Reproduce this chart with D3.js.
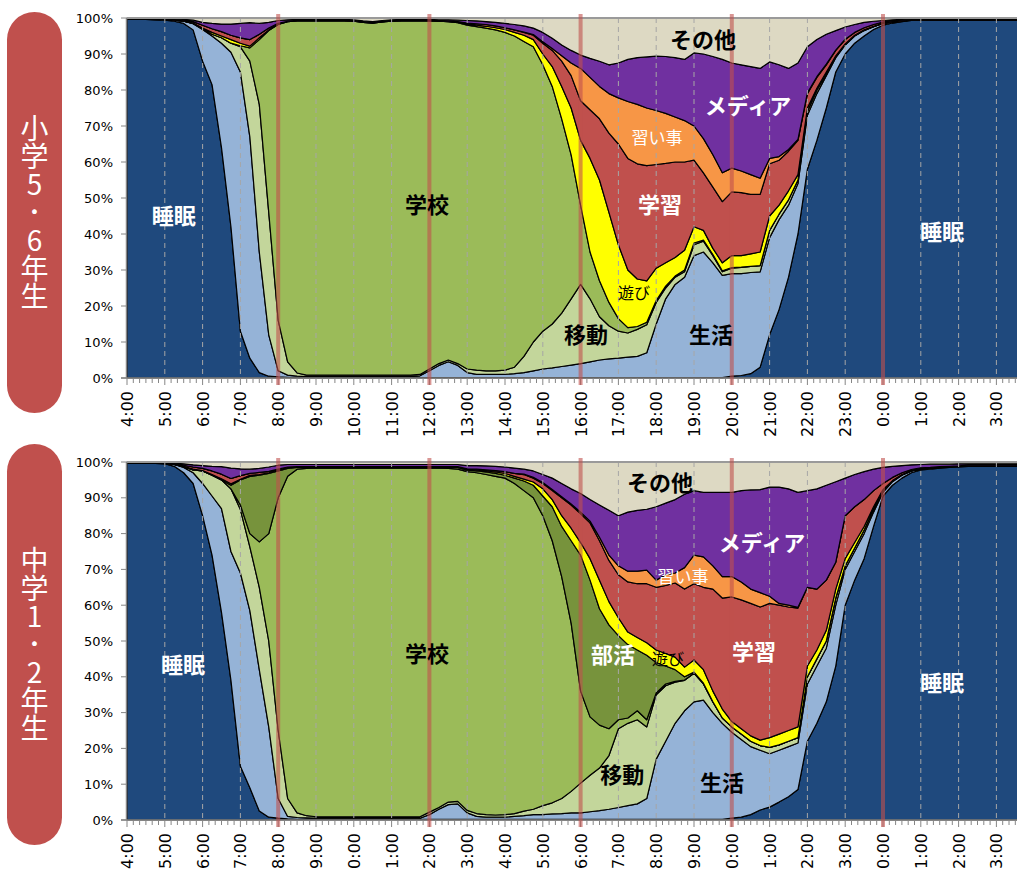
<!DOCTYPE html>
<html lang="ja">
<head>
<meta charset="UTF-8">
<title>子どもの生活時間</title>
<script src="https://d3js.org/d3.v7.min.js"></script>
<style>
  body { margin: 0; background: #fff; }
  svg { display: block; font-family: "Noto Sans CJK JP", sans-serif; }
  .axis-text { font-family: "DejaVu Sans", sans-serif; fill: #000; }
</style>
</head>
<body>
<svg id="chart" width="1017" height="870"></svg>
<script>
// activity categories, bottom to top
var keys = ["睡眠", "生活", "移動", "学校", "部活", "遊び", "学習", "習い事", "メディア", "その他"];
var colors = ["#1F497D", "#95B3D7", "#C3D69B", "#9BBB59", "#77933C", "#FFFF00", "#C0504D", "#F79646", "#7030A0", "#DDD9C3"];

// 15-minute slots from 4:00 to 4:00 next day (one group = one hour)
var hourLabels1 = ["4:00","5:00","6:00","7:00","8:00","9:00","10:00","11:00","12:00","13:00","14:00","15:00",
                   "16:00","17:00","18:00","19:00","20:00","21:00","22:00","23:00","0:00","1:00","2:00","3:00"];
// lower panel: labels as they appear in the source (leading digit cut off at the page edge)
var hourLabels2 = ["4:00","5:00","6:00","7:00","8:00","9:00","0:00","1:00","2:00","3:00","4:00","5:00",
                   "6:00","7:00","8:00","9:00","0:00","1:00","2:00","3:00","0:00","1:00","2:00","3:00"];

// ---- 小学5・6年生 (% of children) ----
var p1Sleep = [99.7,99.7,99.6,99.5, 99.4,99.1,98.5,96.7, 88,81.5,64,42, 13,5.5,1.5,0.5, 0.3,0.2,0.1,0.1,
  0.1,0.1,0.1,0.1, 0.1,0.1,0.1,0.1, 0.1,0.1,0.1,0.1, 0.1,0.1,0.1,0.1, 0.1,0.1,0.1,0.1, 0.1,0.1,0.1,0.1,
  0.1,0.1,0.1,0.1, 0.1,0.1,0.1,0.1, 0.1,0.1,0.1,0.1, 0.1,0.1,0.1,0.1, 0.1,0.1,0.1,0.1,
  0.5,0.7,1.2,3, 12,19,28,40, 58,66,75,85, 90,93,95,96.8, 98,98.6,99,99.3,
  99.3,99.3,99.3,99.3, 99.3,99.3,99.3,99.3, 99.3,99.3,99.3,99.3, 99.3];
var p1Life = [0.1,0.1,0.1,0.2, 0.2,0.3,0.6,1.7, 8.8,13.5,29,48.5, 72,61.5,33.5,11.5, 1.7,0.6,0.4,0.3,
  0.3,0.3,0.3,0.3, 0.3,0.3,0.3,0.3, 0.3,0.3,0.3,0.5, 1.9,3.4,4.4,3.4, 1.4,0.9,0.9,0.9, 0.9,1.1,1.4,1.9,
  2.4,2.7,3.1,3.5, 3.9,4.4,4.9,5.2, 5.4,5.7,5.9,6.9, 14.9,21.9,25.9,27.9, 33.9,34.9,31.9,28.4,
  28.5,28.3,28.1,26.5, 27,25,20,14, 15,13,9,4, 2.5,2,1.5,0.8, 0.5,0.3,0.2,0.1,
  0.1,0.1,0.1,0.1, 0.1,0.1,0.1,0.1, 0.1,0.1,0.1,0.1, 0.1];
var p1Move = [0,0,0,0, 0,0,0,0.1, 0.2,0.5,1.5,2.5, 7,21,41,34, 14,3.7,0.9,0.4,
  0.4,0.4,0.4,0.4, 0.4,0.4,0.4,0.4, 0.4,0.4,0.4,0.4, 0.5,0.5,0.5,0.5, 1.0,1.2,1.0,1.0, 1.2,1.8,4.5,8,
  10.5,12.2,14.8,18.4, 22,17.5,12,9.2, 7.5,6.7,7.5,7.8, 6,3,2,1.5, 3,3,2,1,
  1.5,1.7,1.7,1.7, 2,1.5,1.5,1, 1,1,0.5,0.3, 0.2,0.1,0.1,0, 0,0,0,0,
  0,0,0,0, 0,0,0,0, 0,0,0,0, 0];
var p1School = [0,0,0,0, 0,0,0,0, 0,0,0,0, 0.3,3.7,18,50.5, 82.2,94.5,97.8,98.4,
  98.4,98.4,98.4,98.4, 98.3,98.0,97.8,98.1, 98.3,98.4,98.4,98.2, 96.7,95.1,94,94.7, 95.5,95.4,95.2,94.7, 93.8,92,87.5,82,
  74,66,54,40, 22,13,10,6.5, 3.5,1.5,0.8,0.7, 0.5,0.5,0.3,0.5, 0.5,0.3,0.3,0.3,
  0.2,0.1,0,0, 0,0,0,0, 0,0,0,0, 0,0,0,0, 0,0,0,0,
  0,0,0,0, 0,0,0,0, 0,0,0,0, 0];
var p1Play = [0,0,0,0, 0,0,0.1,0.1, 0.2,0.5,0.5,1.0, 0.7,0.5,0.5,0.2, 0.1,0,0,0,
  0,0,0,0, 0,0,0,0, 0,0,0,0, 0,0,0,0.1, 0.3,0.4,0.5,0.6, 0.8,1.0,1.7,2,
  3,5.5,9,13, 18,26,28,25, 20.5,16,13.2,11.5, 9,6.5,5.2,5.5, 4.5,2.7,1.7,2.2,
  3.3,3.2,3.5,3.8, 4,2.5,2.5,1.5, 1,0.5,0.5,0.2, 0.1,0.1,0.1,0.1, 0.1,0,0,0,
  0,0,0,0, 0,0,0,0, 0,0,0,0, 0];
var p1Study = [0,0,0.1,0.1, 0.1,0.2,0.2,0.4, 0.8,1.0,1.2,1.2, 1.5,1.8,1.0,0.5, 0.2,0.1,0.1,0.1,
  0.1,0.1,0.1,0.1, 0.1,0.1,0.1,0.1, 0.1,0.1,0.1,0.1, 0.1,0.1,0.1,0.2, 0.3,0.4,0.5,0.5, 0.5,0.7,0.8,1.2,
  3,4.5,7,9, 11,13.5,17,22, 28,31,32,32, 28.8,27.6,26.5,24.5, 18.5,16,17,17,
  17.7,17.5,16.5,16, 14.5,12.5,11,9.5, 4,3,2,1.5, 1.2,0.8,0.6,0.5, 0.3,0.3,0.2,0.1,
  0.1,0.1,0.1,0.1, 0.1,0.1,0.1,0.1, 0.1,0.1,0.1,0.1, 0.1];
var p1Lesson = [0,0,0,0, 0,0,0,0, 0,0,0,0, 0,0,0,0, 0,0,0,0,
  0,0,0,0, 0,0,0,0, 0,0,0,0, 0,0,0,0, 0,0,0,0, 0,0,0.1,0.2,
  0.4,0.5,1.5,3.5, 9,9,9,11, 12.8,15.8,16.5,16, 15,13.9,12.5,11.5, 9.5,9.5,9,8,
  6.6,6,5.5,4.5, 1.5,1,0.5,0.3, 0.2,0.2,0.2,0.1, 0.1,0,0,0, 0,0,0,0,
  0,0,0,0, 0,0,0,0, 0,0,0,0, 0];
var p1Media = [0.1,0.1,0.1,0.1, 0.1,0.1,0.2,0.4, 0.8,1.5,2.1,3.1, 4.0,4.7,3.0,1.6, 0.8,0.4,0.3,0.3,
  0.3,0.3,0.3,0.3, 0.3,0.3,0.3,0.3, 0.3,0.3,0.3,0.3, 0.3,0.3,0.4,0.4, 0.7,0.8,0.8,1.0, 1.2,1.5,1.7,1.8,
  2.6,2.9,3,3.5, 3.7,5.3,7,8, 9.7,11.7,13,14.2, 15.1,15.8,16.5,17, 20.3,23.5,27.3,31.5,
  29.2,29.5,30,30.5, 26.8,25.5,22.5,21.2, 12.8,10.3,8.3,5.4, 3.4,2.2,1.5,0.9, 0.4,0.3,0.2,0.2,
  0.2,0.2,0.2,0.2, 0.2,0.2,0.2,0.2, 0.2,0.2,0.2,0.2, 0.2];
var p1Other = [0.1,0.1,0.1,0.1, 0.2,0.3,0.4,0.6, 1.2,1.5,1.7,1.7, 1.5,1.3,1.5,1.2, 0.7,0.5,0.4,0.4,
  0.4,0.4,0.4,0.4, 0.5,0.8,1.0,0.7, 0.5,0.4,0.4,0.4, 0.4,0.5,0.5,0.6, 0.7,0.8,1.0,1.2, 1.5,1.8,2.2,2.8,
  4,5.6,7.5,9, 10.3,11.2,12,13, 12.5,11.5,11,10.8, 10.6,10.7,11,11.5, 9.7,10,10.7,11.5,
  12.5,13,13.5,14, 12.2,13,14,12.5, 8,6,4.5,3.5, 2.5,1.8,1.2,0.9, 0.7,0.5,0.4,0.3,
  0.3,0.3,0.3,0.3, 0.3,0.3,0.3,0.3, 0.3,0.3,0.3,0.3, 0.3];

// ---- 中学1・2年生 (% of children) ----
var p2Sleep = [99.7,99.7,99.6,99.6, 99.5,98.8,97,94, 85,74,58,39, 15,9,2.5,0.8, 0.5,0.3,0.2,0.2,
  0.2,0.2,0.2,0.2, 0.2,0.2,0.2,0.2, 0.2,0.2,0.2,0.2, 0.2,0.2,0.2,0.2, 0.2,0.2,0.2,0.2, 0.2,0.2,0.2,0.2,
  0.2,0.2,0.2,0.2, 0.2,0.2,0.2,0.2, 0.2,0.2,0.2,0.2, 0.2,0.2,0.2,0.2, 0.2,0.2,0.2,0.2,
  0.5,0.8,1.5,2.8, 3.6,5,6.5,8.5, 22,27,33,43, 60,67,73,82, 90.5,93.5,95.5,97,
  97.8,98,98.3,98.5, 98.6,98.8,98.8,98.8, 98.8,98.8,98.8,98.8, 98.8];
var p2Life = [0.1,0.1,0.1,0.1, 0.1,0.5,1.5,3, 9,16.5,29,36, 54,49.5,39.5,25.2, 5.5,0.7,0.5,0.4,
  0.3,0.3,0.3,0.3, 0.3,0.3,0.3,0.3, 0.3,0.3,0.3,0.3, 1.3,2.8,4.1,4.3, 1.8,0.8,0.6,0.6, 0.6,0.8,1.0,1.3,
  1.3,1.5,1.6,1.8, 1.8,2.1,2.4,2.8, 3.3,3.8,4.3,5.8, 16.8,21.8,26.8,30.3, 32.8,33.3,29.8,26.8,
  24,21.7,19,16.7, 14.9,14.5,14,13, 16,16,15,17, 10,8,7,4, 1,1,0.8,0.5,
  0.3,0.3,0.2,0.2, 0.2,0.2,0.2,0.2, 0.2,0.2,0.2,0.2, 0.2];
var p2Move = [0,0,0,0, 0,0,0.2,0.8, 3.5,5.8,8,17.5, 17.7,17.8,23,24, 19,5,1.3,0.6,
  0.4,0.4,0.4,0.4, 0.4,0.4,0.4,0.4, 0.4,0.4,0.4,0.4, 0.7,0.5,0.7,0.7, 0.7,0.8,0.7,0.6, 0.7,0.8,1.3,1.5,
  2.5,3.1,4.2,6, 8.3,10.2,11.9,15, 22,23,23.5,20, 18,15.5,11.5,8.5, 8,4.5,3,1.5,
  1.5,1.5,1.5,1.3, 1.8,1.5,1.5,1.5, 2,2,2,2, 1,1,1,0.8, 0.5,0.2,0.1,0,
  0,0,0,0, 0,0,0,0, 0,0,0,0, 0];
var p2School = [0,0,0,0, 0,0,0,0, 0,0,0,0, 1.3,3.7,12.7,30, 65,90,96,97,
  97.4,97.4,97.4,97.4, 97.4,97.4,97.4,97.4, 97.4,97.4,97.4,97.4, 96.1,94.8,93.2,92.8, 94.6,95.2,95,94.6, 94,92.2,89.5,87,
  81,73.2,62,47, 25.7,16.3,12,7.5, 2.5,1.5,2.5,2, 0.5,0.5,0.2,0.1, 0,0,0,0,
  0,0,0,0, 0,0,0,0, 0,0,0,0, 0,0,0,0, 0,0,0,0,
  0,0,0,0, 0,0,0,0, 0,0,0,0, 0];
var p2Club = [0,0,0,0, 0,0,0,0, 0,0,0,1, 7,16,18.6,16.8, 7.5,2.2,0.5,0.3,
  0.2,0.2,0.2,0.2, 0.2,0.2,0.2,0.2, 0.2,0.2,0.2,0.2, 0.2,0.2,0.3,0.5, 0.4,0.5,0.7,0.8, 0.8,1.5,2.7,3.5,
  5.5,9.5,14,23, 38,38.2,32.5,29, 23.5,20.5,17,18, 8.5,5,3.3,0.9, 0.3,0.2,0,0,
  0,0,0,0, 0,0,0,0, 0,0,0,0, 0,0,0,0, 0,0,0,0,
  0,0,0,0, 0,0,0,0, 0,0,0,0, 0];
var p2Play = [0,0,0,0, 0,0,0.1,0.2, 0.1,0.2,0.3,0.4, 0.2,0.3,0.2,0.2, 0.2,0.2,0.1,0.1,
  0.1,0.1,0.1,0.1, 0.1,0.1,0.1,0.1, 0.1,0.1,0.1,0.1, 0.1,0.1,0.1,0.1, 0.2,0.2,0.3,0.4, 0.5,0.5,0.5,0.9,
  2,2,3,3.5, 3.5,6,8,6.5, 5,3.5,3.5,3.5, 3.5,3.5,3.5,2.7, 3.4,3.8,3,2.5,
  1.5,1.5,1.5,1.5, 2.7,3,3,3, 3,2.5,3,2.5, 2,1.5,1,0.7, 0.3,0.1,0.1,0.1,
  0,0,0,0, 0,0,0,0, 0,0,0,0, 0];
var p2Study = [0,0,0.1,0.1, 0.1,0.2,0.3,0.6, 0.6,1.0,1.3,1.5, 1,0.5,0.6,0.4, 0.3,0.2,0.1,0.1,
  0.1,0.1,0.1,0.1, 0.1,0.1,0.1,0.1, 0.1,0.1,0.1,0.1, 0.1,0.1,0.1,0.1, 0.2,0.3,0.3,0.4, 0.5,0.8,1.3,1.1,
  1.5,2.5,5,6.5, 8,10,11,11.5, 12,14,15,16.5, 17.5,19,20.7,21.8, 21.3,23,28.5,31,
  34.8,36,37,37.2, 37.5,36,34.5,33.2, 22,17,14,7.5, 12,10,7.5,4.5, 1.7,0.9,0.5,0.3,
  0.3,0.2,0.2,0.1, 0.1,0.1,0.1,0.1, 0.1,0.1,0.1,0.1, 0.1];
var p2Lesson = [0,0,0,0, 0,0,0,0, 0,0,0,0, 0,0,0,0, 0,0,0,0,
  0,0,0,0, 0,0,0,0, 0,0,0,0, 0,0,0,0, 0,0,0,0, 0,0,0.1,0.2,
  0.3,0.3,0.3,0.3, 0.5,0.5,1,1.5, 2.5,3,3.5,3.8, 2,3,2.8,6, 8,8.5,6.5,6,
  5.7,5,4,4, 2,0.5,0.5,0.2, 0,0,0,0, 0,0,0,0, 0,0,0,0,
  0,0,0,0, 0,0,0,0, 0,0,0,0, 0];
var p2Media = [0.1,0.1,0.1,0.1, 0.1,0.2,0.4,0.6, 0.8,1.3,2.1,2.9, 1.9,1.2,1.1,1.2, 1.1,0.7,0.6,0.6,
  0.6,0.6,0.6,0.6, 0.6,0.6,0.6,0.6, 0.6,0.6,0.6,0.6, 0.6,0.6,0.6,0.6, 0.9,1.0,1.1,1.2, 1.3,1.5,1.4,1.8,
  2.2,3.2,3.7,4.2, 5.2,6,9,12.5, 14,16.5,17,17, 20.5,20,20.5,20.5, 18,18,20.5,23.5,
  23.5,25.5,27.7,28.8, 30.5,32.5,32.5,32.1, 27,28,26.5,22.5, 10.5,9,7.8,6, 4.5,3.1,2,1.3,
  0.9,0.9,0.7,0.6, 0.6,0.4,0.4,0.4, 0.4,0.4,0.4,0.4, 0.4];
var p2Other = [0.1,0.1,0.1,0.1, 0.2,0.3,0.5,0.8, 1.0,1.2,1.3,1.7, 1.9,2,1.8,1.4, 0.9,0.7,0.7,0.7,
  0.7,0.7,0.7,0.7, 0.7,0.7,0.7,0.7, 0.7,0.7,0.7,0.7, 0.7,0.7,0.7,0.7, 1.0,1.0,1.1,1.2, 1.4,1.7,2,2.5,
  3.5,4.5,6,7.5, 8.8,10.5,12,13.5, 15,14,13.5,13.2, 12.5,11.5,10.5,9, 8,8.5,8.5,8.5,
  8.5,8,7.8,7.7, 7,7,7.5,8.5, 8,7.5,6.5,5.5, 4.5,3.5,2.7,2, 1.5,1.2,1,0.8,
  0.7,0.6,0.6,0.6, 0.5,0.5,0.5,0.5, 0.5,0.5,0.5,0.5, 0.5];

var svg = d3.select("#chart");
var times = d3.range(0, 97).map(function(i) { return 4 + i / 4; });
var x = d3.scaleLinear().domain([4, 28]).range([127, 127 + 24 * 37.8]);
var redHours = [8, 12, 16, 20, 24];

var panels = [
  { top: 18, bottom: 378, pillY: 12, pillH: 401, title: "小学5･6年生", hourLabels: hourLabels1,
    series: [p1Sleep, p1Life, p1Move, p1School, null, p1Play, p1Study, p1Lesson, p1Media, p1Other],
    labels: [["睡眠", 5.24, 45.6, "#fff", 22, 700], ["学校", 11.94, 48.6, "#000", 22, 700],
             ["その他", 19.24, 94.4, "#000", 22, 700], ["メディア", 20.43, 76.1, "#fff", 22, 700],
             ["習い事", 18.02, 67.2, "#fff", 17, 400], ["学習", 18.10, 48.6, "#fff", 22, 700],
             ["遊び", 17.41, 23.9, "#000", 16, 400], ["移動", 16.14, 12.5, "#000", 22, 700],
             ["生活", 19.45, 12.5, "#000", 22, 700], ["睡眠", 25.56, 41.1, "#fff", 22, 700]] },
  { top: 462, bottom: 820, pillY: 444, pillH: 401, title: "中学1･2年生", hourLabels: hourLabels2,
    series: [p2Sleep, p2Life, p2Move, p2School, p2Club, p2Play, p2Study, p2Lesson, p2Media, p2Other],
    labels: [["睡眠", 5.48, 43.9, "#fff", 22, 700], ["学校", 11.94, 46.9, "#000", 22, 700],
             ["その他", 18.10, 94.7, "#000", 22, 700], ["メディア", 20.80, 77.9, "#fff", 22, 700],
             ["習い事", 18.71, 68.4, "#fff", 17, 400], ["部活", 16.86, 46.6, "#fff", 22, 700],
             ["学習", 20.59, 47.5, "#fff", 22, 700], ["遊び", 18.31, 45.3, "#000", 16, 400],
             ["移動", 17.10, 13.1, "#000", 22, 700], ["生活", 19.74, 10.9, "#000", 22, 700],
             ["睡眠", 25.56, 38.8, "#fff", 22, 700]] }
];

panels.forEach(function(p) {
  var y = d3.scaleLinear().domain([0, 100]).range([p.bottom, p.top]);
  var g = svg.append("g");

  // stacked areas
  var useKeys = keys.filter(function(k, i) { return p.series[i]; });
  var rows = times.map(function(t, i) {
    var r = { t: t };
    keys.forEach(function(k, j) { if (p.series[j]) r[k] = p.series[j][i]; });
    return r;
  });
  var stacked = d3.stack().keys(useKeys)(rows);
  var area = d3.area()
    .x(function(d) { return x(d.data.t); })
    .y0(function(d) { return y(d[0]); })
    .y1(function(d) { return y(d[1]); });
  g.selectAll("path.layer")
    .data(stacked)
    .enter().append("path")
    .attr("class", "layer")
    .attr("d", area)
    .attr("fill", function(d) { return colors[keys.indexOf(d.key)]; })
    .attr("stroke", "#000")
    .attr("stroke-width", 1.2)
    .attr("stroke-linejoin", "round");

  // hourly dashed lines
  var hours = d3.range(5, 28).filter(function(h) { return redHours.indexOf(h) < 0; });
  g.selectAll("line.grid")
    .data(hours)
    .enter().append("line")
    .attr("x1", function(h) { return x(h); }).attr("x2", function(h) { return x(h); })
    .attr("y1", p.top).attr("y2", p.bottom)
    .attr("stroke", "#A6A6A6").attr("stroke-width", 1)
    .attr("stroke-dasharray", "5,4");

  // top border
  g.append("line")
    .attr("x1", 127).attr("x2", 1017).attr("y1", p.top).attr("y2", p.top)
    .attr("stroke", "#9A9A9A").attr("stroke-width", 2);

  // x axis with 10-minute ticks
  g.append("line")
    .attr("x1", 121).attr("x2", 1017).attr("y1", p.bottom).attr("y2", p.bottom)
    .attr("stroke", "#868686").attr("stroke-width", 1.5);
  g.selectAll("line.minor")
    .data(d3.range(0, 145))
    .enter().append("line")
    .attr("x1", function(m) { return x(4 + m / 6); }).attr("x2", function(m) { return x(4 + m / 6); })
    .attr("y1", p.bottom).attr("y2", function(m) { return p.bottom + (m % 6 === 0 ? 7 : 5); })
    .attr("stroke", "#868686").attr("stroke-width", 1);

  // 4-hour red markers
  g.selectAll("line.red")
    .data(redHours)
    .enter().append("line")
    .attr("x1", function(h) { return x(h); }).attr("x2", function(h) { return x(h); })
    .attr("y1", p.top - 4).attr("y2", p.bottom + 7)
    .attr("stroke", "#C0504D").attr("stroke-opacity", 0.6).attr("stroke-width", 4);

  // hour labels
  g.selectAll("text.hour")
    .data(p.hourLabels)
    .enter().append("text")
    .attr("class", "axis-text")
    .attr("font-size", 16)
    .attr("text-anchor", "end")
    .attr("transform", function(d, i) {
      return "translate(" + (x(4 + i) + 6) + "," + (p.bottom + 13) + ") rotate(-90)";
    })
    .text(function(d) { return d; });

  // y axis
  g.append("line")
    .attr("x1", 126.5).attr("x2", 126.5).attr("y1", p.top).attr("y2", p.bottom)
    .attr("stroke", "#868686").attr("stroke-width", 1.5);
  var yTicks = d3.range(0, 101, 10);
  g.selectAll("line.ytick")
    .data(yTicks)
    .enter().append("line")
    .attr("x1", 121).attr("x2", 126.5)
    .attr("y1", function(v) { return y(v); }).attr("y2", function(v) { return y(v); })
    .attr("stroke", "#868686").attr("stroke-width", 1);
  g.selectAll("text.ylab")
    .data(yTicks)
    .enter().append("text")
    .attr("class", "axis-text")
    .attr("font-size", 13)
    .attr("text-anchor", "end")
    .attr("dominant-baseline", "central")
    .attr("x", 113)
    .attr("y", function(v) { return y(v); })
    .text(function(v) { return v + "%"; });

  // in-chart category labels
  p.labels.forEach(function(l) {
    g.append("text")
      .attr("x", x(l[1])).attr("y", y(l[2]))
      .attr("text-anchor", "middle")
      .attr("dominant-baseline", "central")
      .attr("fill", l[3])
      .attr("font-size", l[4])
      .attr("font-weight", l[5])
      .text(l[0]);
  });

  // grade pill
  svg.append("rect")
    .attr("x", 7).attr("y", p.pillY).attr("width", 55).attr("height", p.pillH)
    .attr("rx", 27.5).attr("fill", "#C0504D");
  svg.append("text")
    .attr("x", 34.5).attr("y", p.pillY + p.pillH / 2)
    .attr("text-anchor", "middle")
    .style("writing-mode", "vertical-rl")
    .style("text-orientation", "upright")
    .attr("fill", "#fff")
    .attr("font-size", 28)
    .text(p.title);
});
</script>
</body>
</html>
